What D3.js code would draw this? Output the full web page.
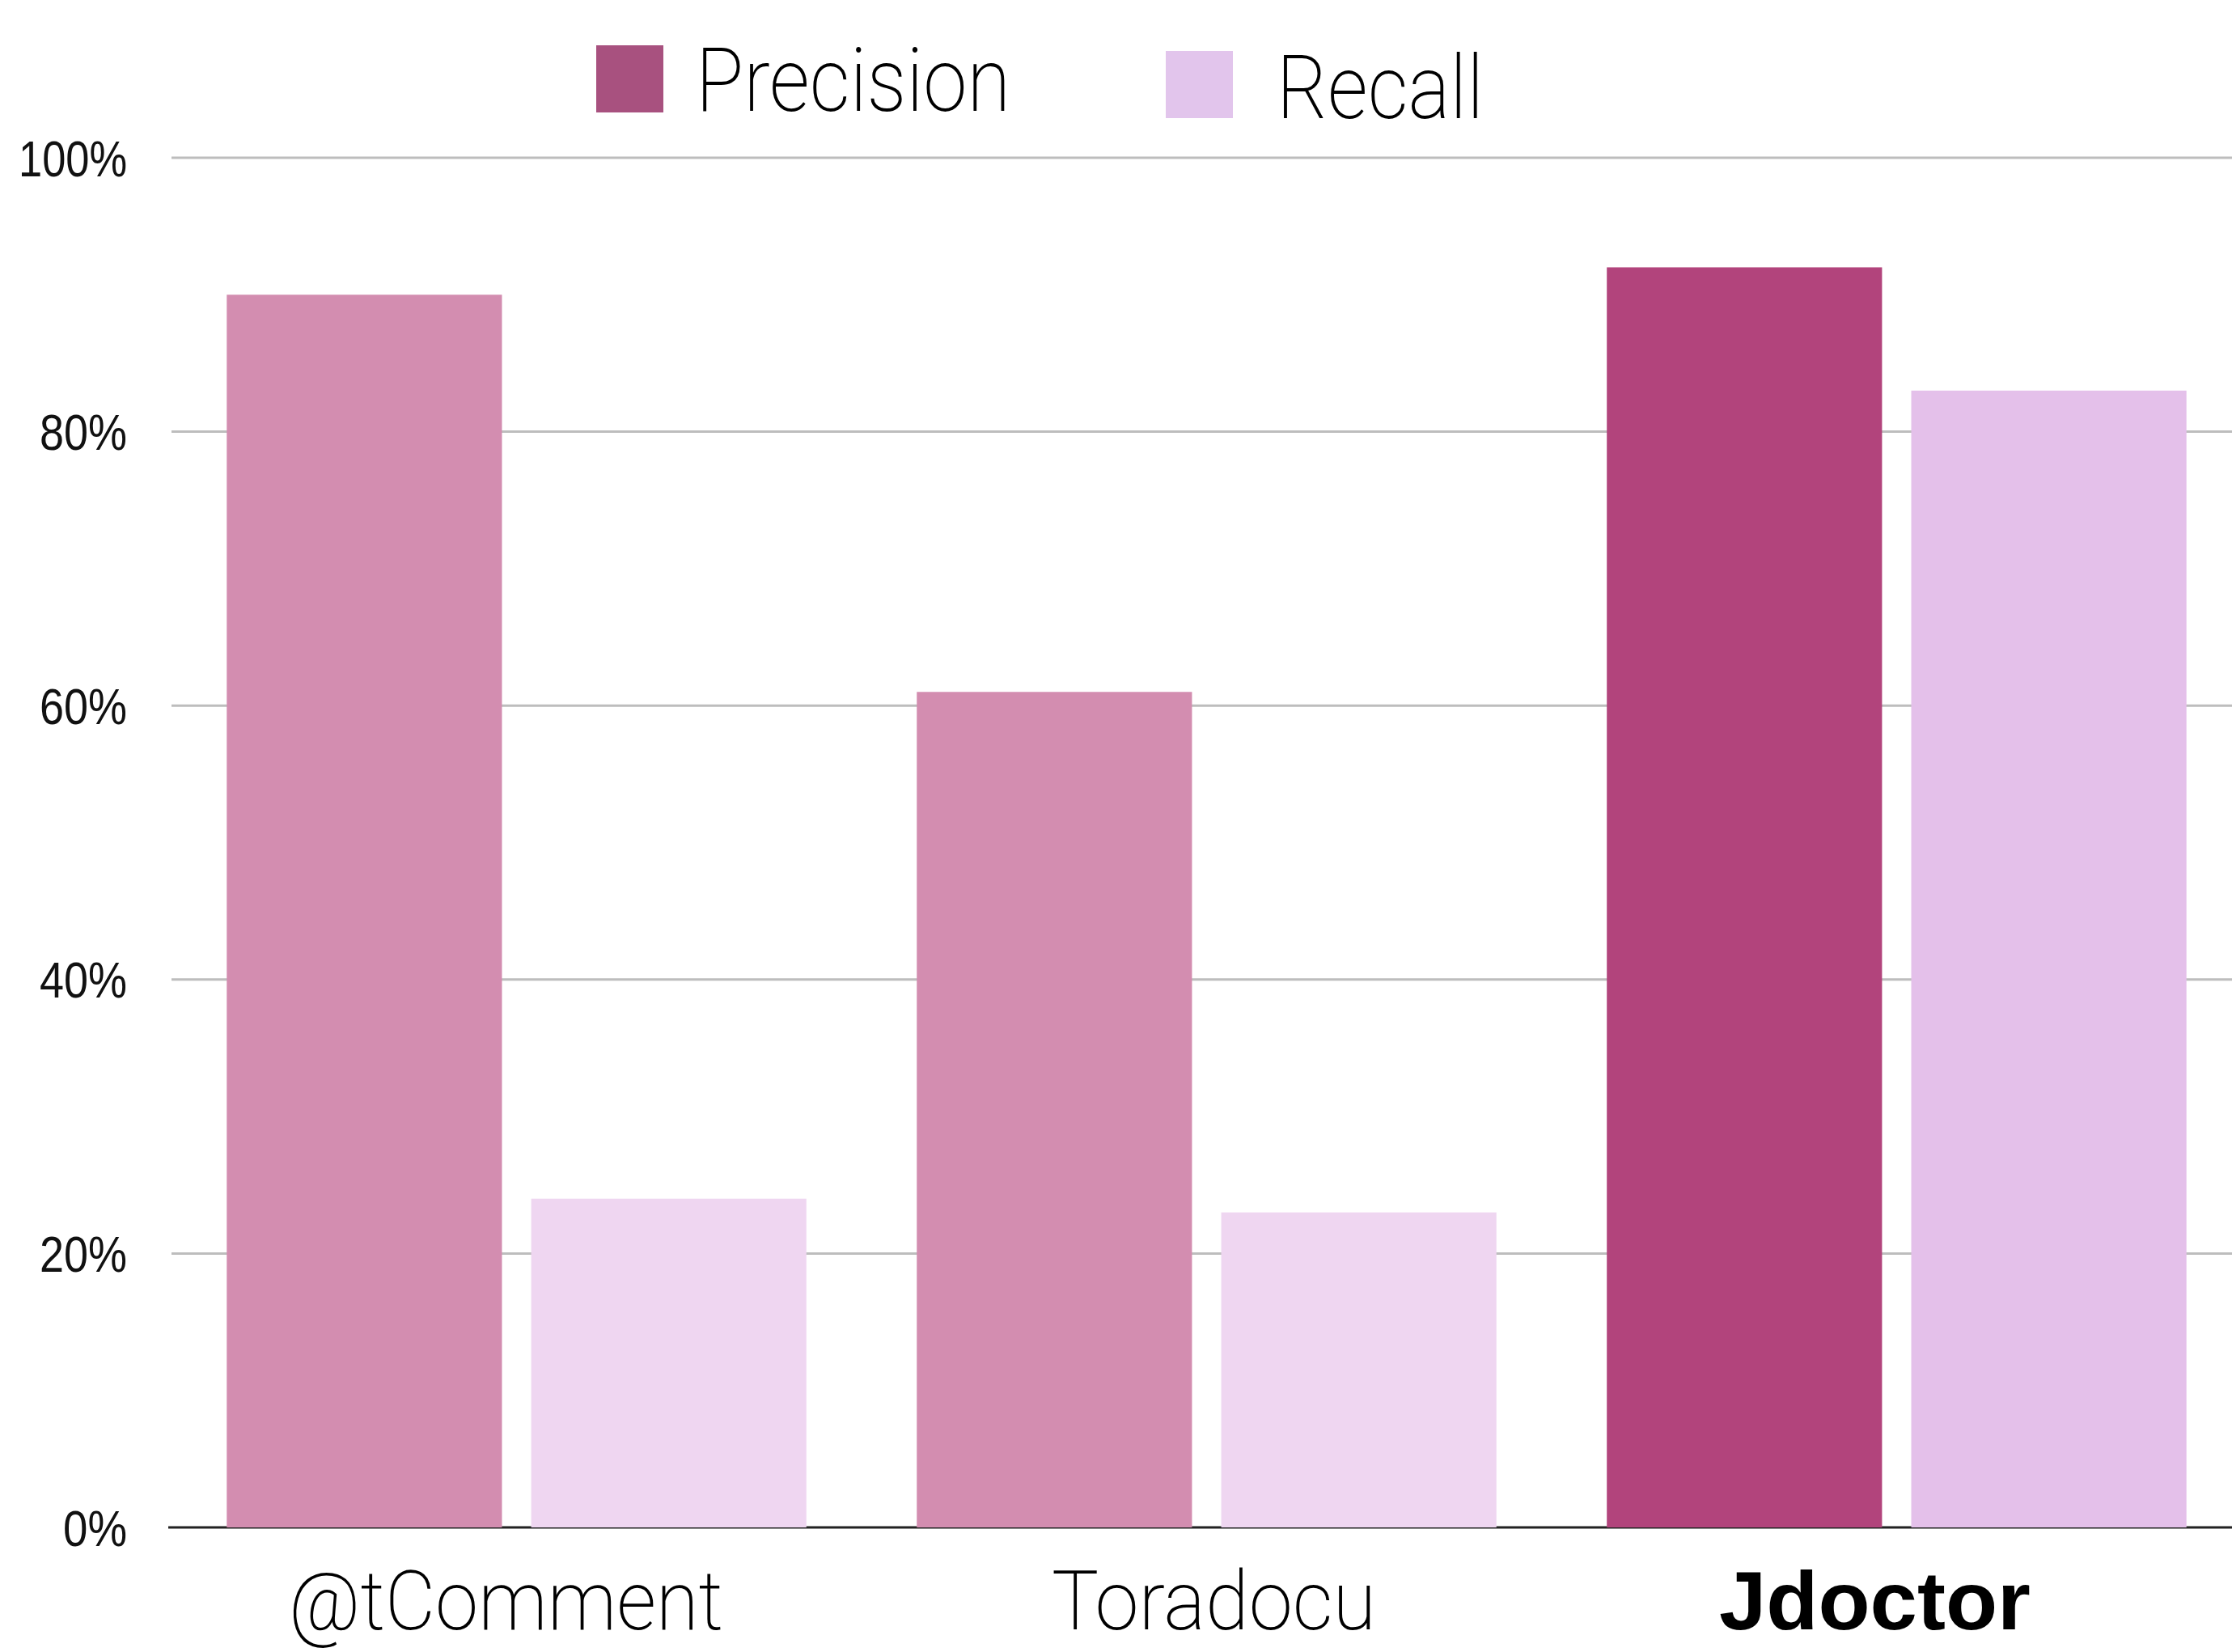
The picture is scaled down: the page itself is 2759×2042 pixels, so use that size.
<!DOCTYPE html>
<html>
<head>
<meta charset="utf-8">
<script src="https://cdn.jsdelivr.net/npm/d3@7"></script>
<style>
  html, body { margin: 0; padding: 0; background: #fff; }
  svg { display: block; }
</style>
</head>
<body>
<svg id="chart" width="2759" height="2042"></svg>
<script>
// ---- data ----
const categories = ["@tComment", "Toradocu", "Jdoctor"];
const seriesNames = ["Precision", "Recall"];
const precision = [0.90, 0.61, 0.92];
const recall = [0.24, 0.23, 0.83];
const yTicks = [0, 0.2, 0.4, 0.6, 0.8, 1.0];
const yTickLabels = ["0%", "20%", "40%", "60%", "80%", "100%"];

// ---- styles ----
const precisionColors = ["#D38DB0", "#D38DB0", "#B2447C"];
const recallColors = ["#EFD6F1", "#EFD6F1", "#E4C0EA"];
const legendColors = ["#A8517F", "#E2C5EC"];

const W = 2759, H = 2042;
const svg = d3.select("#chart");

const y = d3.scaleLinear().domain([0, 1]).range([1888, 195]);
const x0 = d3.scaleBand().domain(categories).range([224, 2759])
  .paddingInner(0.16).paddingOuter(0.066);
const x1 = d3.scaleBand().domain(seriesNames).range([0, x0.bandwidth()]).paddingInner(0.096);

// gridlines
const grid = svg.append("g");
grid.selectAll("line").data(yTicks.filter(d => d > 0)).join("line")
  .attr("x1", 212).attr("x2", W)
  .attr("y1", d => y(d)).attr("y2", d => y(d))
  .attr("stroke", "#bdbdbd").attr("stroke-width", 3);

// axis baseline
svg.append("line")
  .attr("x1", 208).attr("x2", W)
  .attr("y1", y(0)).attr("y2", y(0))
  .attr("stroke", "#222").attr("stroke-width", 3);

// y axis labels via d3 axis
const yAxis = d3.axisLeft(y).tickValues(yTicks)
  .tickFormat((d, i) => yTickLabels[i]).tickSize(0).tickPadding(0);
const yG = svg.append("g").attr("transform", "translate(157,0)").call(yAxis);
yG.select(".domain").remove();
const tickWidths = { "0%": 79, "20%": 108, "40%": 108, "60%": 108, "80%": 108, "100%": 134 };
yG.selectAll("text")
  .attr("font-family", "'Liberation Sans', Arial, sans-serif")
  .attr("font-size", 63)
  .attr("fill", "#111")
  .attr("dy", "0.35em")
  .attr("textLength", function() { return tickWidths[this.textContent]; })
  .attr("lengthAdjust", "spacingAndGlyphs");

// bars
const groups = svg.append("g").selectAll("g").data(categories).join("g")
  .attr("transform", d => `translate(${x0(d)},0)`);

groups.append("rect")
  .attr("x", x1("Precision"))
  .attr("width", x1.bandwidth())
  .attr("y", (d, i) => y(precision[i]))
  .attr("height", (d, i) => y(0) - y(precision[i]))
  .attr("fill", (d, i) => precisionColors[i]);

groups.append("rect")
  .attr("x", x1("Recall"))
  .attr("width", x1.bandwidth())
  .attr("y", (d, i) => y(recall[i]))
  .attr("height", (d, i) => y(0) - y(recall[i]))
  .attr("fill", (d, i) => recallColors[i]);

// x labels
const xLabelWidths = [537, 401, 385];
const xLabelOffsets = [-13, 9, -27];
svg.append("g").selectAll("text").data(categories).join("text")
  .attr("x", (d, i) => x0(d) + x0.bandwidth() / 2 + xLabelOffsets[i])
  .attr("y", 2014)
  .attr("text-anchor", "middle")
  .attr("font-family", (d, i) => i === 2 ? "'Liberation Sans', Arial, sans-serif" : "Roboto, 'Liberation Sans', sans-serif")
  .attr("font-weight", (d, i) => i === 2 ? 700 : 200)
  .attr("font-size", 102)
  .attr("fill", "#000")
  .attr("textLength", (d, i) => xLabelWidths[i])
  .attr("lengthAdjust", "spacingAndGlyphs")
  .text(d => d);

// legend
const legendItems = [
  { name: seriesNames[0], sx: 737, sy: 56, tx: 860, ty: 137, tw: 389 },
  { name: seriesNames[1], sx: 1441, sy: 63, tx: 1578, ty: 146, tw: 256 }
];
const lg = svg.append("g").selectAll("g").data(legendItems).join("g");
lg.append("rect")
  .attr("x", d => d.sx).attr("y", d => d.sy)
  .attr("width", 83).attr("height", 83)
  .attr("fill", (d, i) => legendColors[i]);
lg.append("text")
  .attr("x", d => d.tx).attr("y", d => d.ty)
  .attr("font-family", "Roboto, 'Liberation Sans', sans-serif")
  .attr("font-weight", 200)
  .attr("font-size", 110)
  .attr("fill", "#000")
  .attr("textLength", d => d.tw)
  .attr("lengthAdjust", "spacingAndGlyphs")
  .text(d => d.name);
</script>
</body>
</html>
